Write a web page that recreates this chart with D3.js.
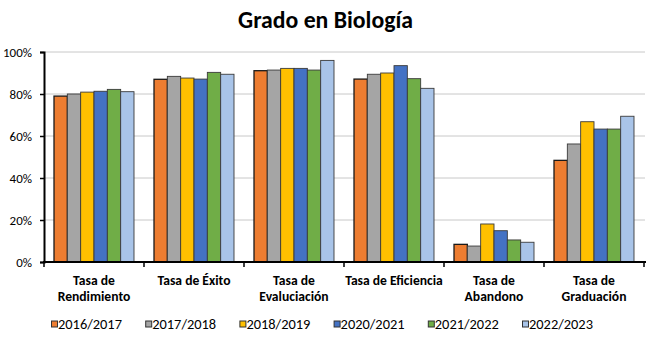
<!DOCTYPE html>
<html><head><meta charset="utf-8">
<script src="https://cdn.jsdelivr.net/npm/d3@7"></script>
<style>
body{margin:0;background:#fff;}
svg{display:block;font-family:Carlito,Lato,"Liberation Sans",sans-serif;}
</style></head>
<body><svg id="c" width="651" height="338"></svg>
<script>
const categories = [["Tasa de","Rendimiento"],["Tasa de Éxito"],["Tasa de","Evaluciación"],["Tasa de Eficiencia"],["Tasa de","Abandono"],["Tasa de","Graduación"]];
const seriesNames = ["2016/2017","2017/2018","2018/2019","2020/2021","2021/2022","2022/2023"];
const s2016 = [79.0, 87.0, 91.1, 87.1, 8.4, 48.4];
const s2017 = [80.0, 88.4, 91.4, 89.4, 7.6, 56.2];
const s2018 = [80.9, 87.6, 92.2, 90.0, 18.1, 66.8];
const s2020 = [81.3, 87.1, 92.2, 93.5, 14.9, 63.3];
const s2021 = [82.2, 90.3, 91.4, 87.3, 10.5, 63.3];
const s2022 = [81.1, 89.4, 96.0, 82.7, 9.4, 69.4];
const yTicks = [0, 20, 40, 60, 80, 100];
const colors = ["#ED7D31","#A5A5A5","#FFC000","#4472C4","#70AD47","#A9C4E8"];
const title = "Grado en Biología";

const series = [s2016, s2017, s2018, s2020, s2021, s2022];
const svg = d3.select("#c");
const FONT = "Carlito,Lato,'Liberation Sans',sans-serif";

function fitSize(text, weight, target) {
  const t = svg.append("text").attr("font-size", 100).attr("font-weight", weight)
    .attr("font-family", FONT).text(text);
  const w = t.node().getComputedTextLength();
  t.remove();
  return 100 * target / w;
}
const titleSize = fitSize(title, "bold", 175);
const catSize = (fitSize("Tasa de Eficiencia", "bold", 96) + fitSize("Rendimiento", "bold", 74)) / 2;
const legSize = fitSize("2016/2017", "normal", 64);
const tickSize = fitSize("100%", "normal", 29);

const pLeft = 44, pRight = 644, pTop = 52, pBottom = 262;
const x0 = d3.scaleBand().domain(d3.range(categories.length)).range([pLeft, pRight]).paddingInner(0.2).paddingOuter(0.1);
const x1 = d3.scaleBand().domain(d3.range(series.length)).range([0, x0.bandwidth()]);
const y = d3.scaleLinear().domain([0, 100]).range([pBottom, pTop]);

svg.append("text").attr("x", 325.5).attr("y", 28).attr("text-anchor", "middle")
  .attr("font-size", titleSize).attr("font-weight", "bold").attr("fill", "#000").text(title);

// gridlines
svg.append("g").selectAll("line").data(yTicks.filter(d => d > 0)).join("line")
  .attr("x1", pLeft).attr("x2", 645).attr("y1", d => y(d)).attr("y2", d => y(d))
  .attr("stroke", "#c8c8c8").attr("stroke-width", 1);

// bars
const g = svg.append("g");
series.forEach((s, si) => {
  g.selectAll(".b" + si).data(s).join("rect").attr("class", "b" + si)
    .attr("x", (d, i) => x0(i) + x1(si))
    .attr("y", d => y(d))
    .attr("width", x1.bandwidth())
    .attr("height", d => pBottom - y(d))
    .attr("fill", colors[si])
    .attr("stroke", si === 0 ? "#1a1a1a" : "#3a3a3a")
    .attr("stroke-width", si === 0 ? 1.3 : 0.9);
});

// y axis
const yAxis = d3.axisLeft(y).tickValues(yTicks).tickFormat(d => d + "%").tickSize(4).tickPadding(8);
const ya = svg.append("g").attr("transform", `translate(${pLeft},0)`).call(yAxis);
ya.select(".domain").attr("stroke", "#000").attr("stroke-width", 2);
ya.selectAll(".tick line").attr("stroke", "#000").attr("stroke-width", 1.5);
ya.selectAll("text").attr("font-size", tickSize).attr("fill", "#000").attr("font-family", FONT);

// x axis line + ticks
const xa = svg.append("g");
xa.append("line").attr("x1", pLeft - 1).attr("x2", 646).attr("y1", pBottom).attr("y2", pBottom).attr("stroke", "#000").attr("stroke-width", 2);
const bounds = d3.range(categories.length + 1).map(i => pLeft + i * x0.step());
xa.selectAll(".t").data(bounds).join("line")
  .attr("x1", d => d).attr("x2", d => d).attr("y1", pBottom).attr("y2", pBottom + 5)
  .attr("stroke", "#000").attr("stroke-width", 1.5);

// category labels
categories.forEach((lines, i) => {
  const cx = x0(i) + x0.bandwidth() / 2;
  lines.forEach((t, li) => {
    svg.append("text").attr("x", cx).attr("y", 285 + li * 16).attr("text-anchor", "middle")
      .attr("font-size", catSize).attr("font-weight", "bold").attr("fill", "#000").text(t);
  });
});

// legend
const leg = svg.append("g");
seriesNames.forEach((n, i) => {
  const lx = 51.5 + i * 94.2;
  leg.append("rect").attr("x", lx).attr("y", 321).attr("width", 6).attr("height", 6)
    .attr("fill", colors[i]).attr("stroke", "#333").attr("stroke-width", 1);
  leg.append("text").attr("x", lx + 6.5).attr("y", 329).attr("font-size", legSize).attr("fill", "#000").text(n);
});
</script></body></html>
